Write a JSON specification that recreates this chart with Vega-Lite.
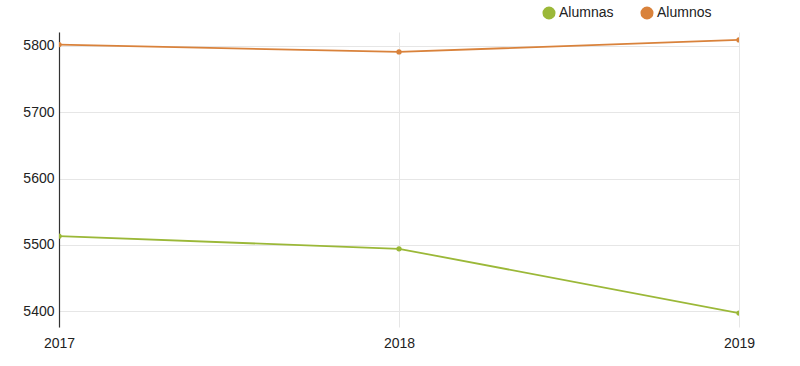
{
  "$schema": "https://vega.github.io/schema/vega-lite/v6.json",
  "width": 680,
  "height": 295,
  "autosize": {"type": "none"},
  "padding": {"left": 59, "top": 32, "right": 61, "bottom": 39},
  "background": "white",
  "config": {
    "view": {"stroke": null},
    "font": "Liberation Sans",
    "axis": {"labelFont": "Liberation Sans", "labelFontSize": 14, "labelColor": "#222", "gridColor": "#e6e6e6", "gridWidth": 1, "ticks": false, "labelOverlap": false}
  },
  "data": {
    "values": [
      {"year": "2017", "serie": "Alumnas", "value": 5513},
      {"year": "2018", "serie": "Alumnas", "value": 5494},
      {"year": "2019", "serie": "Alumnas", "value": 5397},
      {"year": "2017", "serie": "Alumnos", "value": 5802},
      {"year": "2018", "serie": "Alumnos", "value": 5791},
      {"year": "2019", "serie": "Alumnos", "value": 5809}
    ]
  },
  "encoding": {
    "x": {
      "field": "year", "type": "ordinal",
      "scale": {"type": "point", "padding": 0},
      "axis": {"title": null, "domain": false, "labelPadding": 9, "grid": true, "labelAngle": 0, "labelFlush": false}
    },
    "y": {
      "field": "value", "type": "quantitative",
      "scale": {"domain": [5376, 5821], "nice": false, "zero": false},
      "axis": {"title": null, "values": [5400, 5500, 5600, 5700, 5800], "format": "d", "domainColor": "#333", "domainWidth": 1.2, "labelPadding": 5, "grid": true}
    },
    "color": {
      "field": "serie", "type": "nominal",
      "scale": {"domain": ["Alumnas", "Alumnos"], "range": ["#9bb838", "#d9823b"]},
      "legend": {
        "title": null, "orient": "none", "direction": "horizontal",
        "legendX": 483, "legendY": -26,
        "symbolType": "circle", "symbolSize": 170, "symbolStrokeWidth": 0,
        "labelFontSize": 14, "labelColor": "#222", "labelFont": "Liberation Sans",
        "columnPadding": 26, "labelOffset": 3
      }
    }
  },
  "layer": [
    {"mark": {"type": "line", "strokeWidth": 1.8, "clip": true}},
    {"mark": {"type": "point", "filled": true, "size": 28, "opacity": 1, "clip": true}}
  ]
}
